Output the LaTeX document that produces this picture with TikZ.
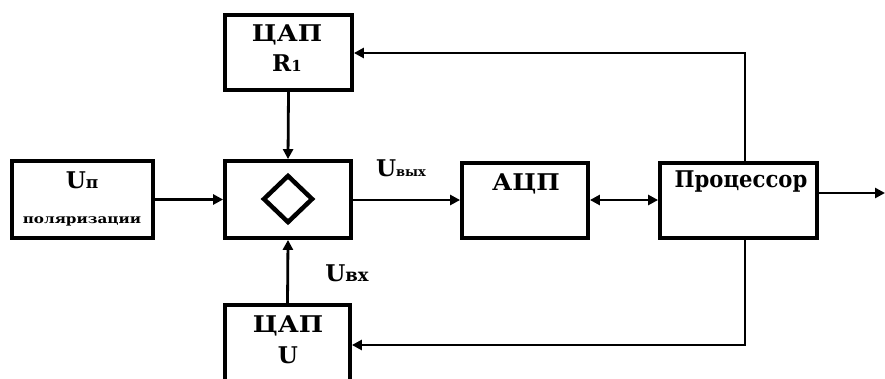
\documentclass[tikz,border=0pt]{standalone}
\usepackage{fontspec}
\setmainfont{DejaVu Serif}
\usepackage{graphicx}
\usetikzlibrary{arrows.meta,shapes.geometric}
\tikzset{
  blk/.style={draw, line width=3.8pt, rectangle, inner sep=0pt},
  conn/.style={line width=2.8pt},
  arr/.style={conn, -{Triangle[length=10pt,width=10pt]}},
  darr/.style={conn, {Triangle[length=10pt,width=10pt]}-{Triangle[length=10pt,width=10pt]}},
  txt/.style={font=\fontsize{23}{25}\selectfont\bfseries, inner sep=0pt},
  small/.style={font=\fontsize{16}{18}\selectfont\bfseries, inner sep=0pt}
}
\begin{document}
\begin{tikzpicture}[x=1pt,y=-1pt]
\useasboundingbox (0,0) rectangle (885,378);
% blocks
\node[blk, minimum width=141pt, minimum height=77pt] (up)   at (82.5,199.5) {};
\node[blk, minimum width=126pt, minimum height=77pt] (mix)  at (288,199.5) {};
\node[blk, minimum width=127pt, minimum height=75pt] (r1)   at (288.5,52.5) {};
\node[blk, minimum width=125pt, minimum height=85pt] (dacu) at (287.5,347.5) {};
\node[blk, minimum width=126pt, minimum height=75pt] (adc)  at (525,200.5) {};
\node[blk, minimum width=157pt, minimum height=75pt] (proc) at (738.5,200.5) {};
% diamond
\node[draw, diamond, line width=4.5pt, minimum width=50pt, minimum height=48pt, inner sep=0pt] (dia) at (288,199) {};
% texts
\node[txt] (tup) at (82,180) {U\fontsize{17}{19}\selectfont п};
\node[small] (tpol) at (82,221) {\scalebox{0.95}[0.8]{поляризации}};
\node[txt] (tr1a) at (287,35) {\scalebox{1.12}[1]{ЦАП}};
\node[txt] (tr1b) at (287,63) {R\fontsize{15}{17}\selectfont 1};
\node[txt] (tua) at (288,326) {\scalebox{1.12}[1]{ЦАП}};
\node[txt] (tub) at (288,355) {U};
\node[txt] (tadc) at (526,184) {\scalebox{1.08}[1]{АЦП}};
\node[txt] (tproc) at (741,182) {\scalebox{0.92}[1]{Процессор}};
\node[txt] (lout) at (401,168) {U\fontsize{13}{15}\selectfont вых};
\node[txt] (lin) at (347,273) {U\fontsize{18}{20}\selectfont вх};
% connectors
\coordinate (outend) at (885,193);
\coordinate (fbtop) at (745,53);
\coordinate (fbbot) at (745,345);
\draw[arr] (up.east) -- (mix.west);
\draw[arr] (mix.east |- 0,200) -- (adc.west |- 0,200);
\draw[darr] (adc.east |- 0,200) -- (proc.west |- 0,200);
\draw[arr] (r1.south) -- (mix.north);
\draw[arr] (dacu.north) -- (mix.south);
\draw[arr] (proc.east |- outend) -- (outend);
\draw[arr] (fbtop |- proc.north) -- (fbtop) -- (r1.east |- fbtop);
\draw[arr] (fbbot |- proc.south) -- (fbbot) -- (dacu.east |- fbbot);
\end{tikzpicture}
\end{document}
